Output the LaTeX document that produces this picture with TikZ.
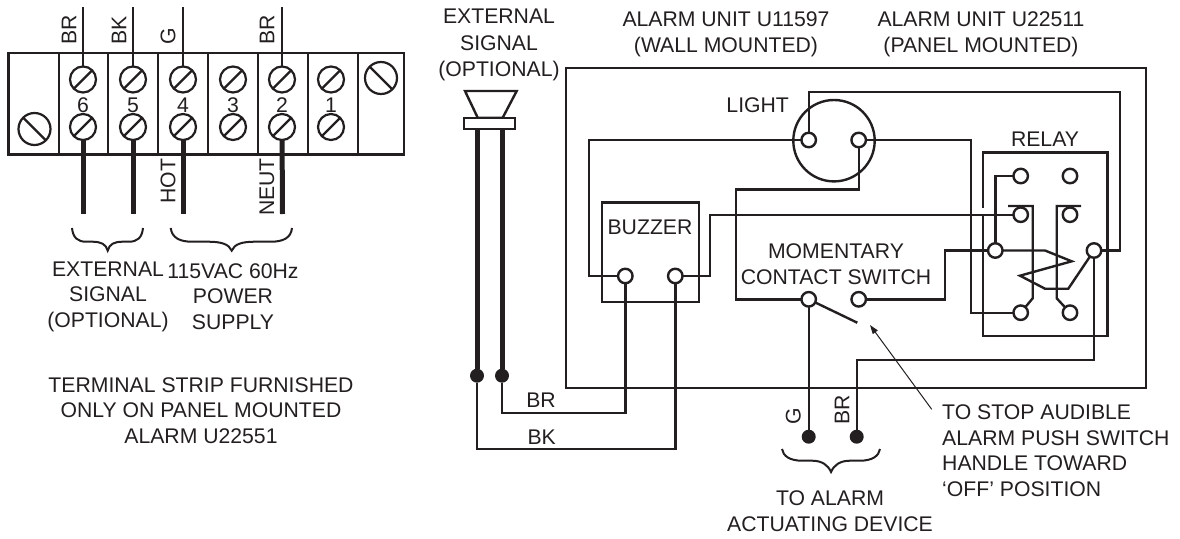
\documentclass[tikz,border=0pt]{standalone}
\usepackage{fontspec}
\setmainfont{Liberation Sans}
\usetikzlibrary{arrows.meta}
\definecolor{ink}{HTML}{231F20}

\newcommand{\txtsize}{\fontsize{21.2}{25.5}\selectfont}

\tikzset{
	wire/.style={draw=ink, line width=2.4pt},
	fatwire/.style={draw=ink, line width=5pt},
	bracket/.style={draw=ink, line width=2pt},
	stud/.style={circle, draw=ink, fill=white, line width=2.4pt, minimum size=14.5pt, inner sep=0pt, outer sep=0pt},
	dot/.style={circle, fill=ink, minimum size=14pt, inner sep=0pt, outer sep=0pt},
	screw/.style={circle, draw=ink, fill=white, line width=2.2pt, minimum size=26pt, inner sep=0pt, outer sep=0pt,
		path picture={\draw[ink, line width=2.2pt] (path picture bounding box.south west) -- (path picture bounding box.north east);}},
	bigscrew/.style={circle, draw=ink, fill=white, line width=2.2pt, minimum size=32pt, inner sep=0pt, outer sep=0pt,
		path picture={\draw[ink, line width=2.2pt] (path picture bounding box.north west) -- (path picture bounding box.south east);}},
	label/.style={text=ink, font=\txtsize, inner sep=0pt, align=center},
	sidelabel/.style={label, rotate=90},
}

\begin{document}
\begin{tikzpicture}[x=1pt, y=-1pt]
	\useasboundingbox (0,0) rectangle (1180,538);

	\draw[wire] (8.5,53) rectangle (404,154.5);
	\draw[wire] (59,53) -- (59,154.5);
	\draw[wire] (108,53) -- (108,154.5);
	\draw[wire] (158,53) -- (158,154.5);
	\draw[wire] (208,53) -- (208,154.5);
	\draw[wire] (258,53) -- (258,154.5);
	\draw[wire] (308,53) -- (308,154.5);
	\draw[wire] (358,53) -- (358,154.5);

	\node[bigscrew] (screwL) at (34.5,129) {};
	\node[bigscrew] (screwR) at (381,78) {};

	\node[screw] (top6) at (83,79.5) {};
	\node[screw] (top5) at (133,79.5) {};
	\node[screw] (top4) at (183,79.5) {};
	\node[screw] (top3) at (233,79.5) {};
	\node[screw] (top2) at (282,79.5) {};
	\node[screw] (top1) at (331,79.5) {};
	\node[screw] (low6) at (83,127) {};
	\node[screw] (low5) at (133,127) {};
	\node[screw] (low4) at (183,127) {};
	\node[screw] (low3) at (233,127) {};
	\node[screw] (low2) at (282,127) {};
	\node[screw] (low1) at (331,127) {};

	\node[label] (num6) at (83,105) {6};
	\node[label] (num5) at (133,105) {5};
	\node[label] (num4) at (183,105) {4};
	\node[label] (num3) at (233,105) {3};
	\node[label] (num2) at (282,105) {2};
	\node[label] (num1) at (331,105) {1};

	\coordinate (in6) at (83,7);
	\coordinate (in5) at (133,7);
	\coordinate (in4) at (183,7);
	\coordinate (in2) at (282,7);
	\coordinate (out6) at (83,214);
	\coordinate (out5) at (133,214);
	\coordinate (out4) at (183,214);
	\coordinate (out2) at (282.5,214);

	\draw[wire] (in6) -- (top6);
	\draw[wire] (in5) -- (top5);
	\draw[wire] (in4) -- (top4);
	\draw[wire] (in2) -- (top2);
	\draw[fatwire] (low6) -- (out6);
	\draw[fatwire] (low5) -- (out5);
	\draw[fatwire] (low4) -- (out4);
	\draw[fatwire] (low2) -- (out2);

	\node[sidelabel] (lblBR) at (69,30) {BR};
	\node[sidelabel] (lblBK) at (119,30) {BK};
	\node[sidelabel] (lblG) at (168,36) {G};
	\node[sidelabel] (lblBRb) at (267,30) {BR};
	\node[sidelabel] (lblHOT) at (168,181) {HOT};
	\node[sidelabel] (lblNEUT) at (267,187) {NEUT};

	\draw[bracket] (72,228) .. controls (73,238) and (78,241.7) .. (86,241.7) -- (92,241.7) .. controls (101,241.7) and (106,244) .. (107.7,250.7) .. controls (109.4,244) and (114,241.7) .. (123,241.7) -- (129,241.7) .. controls (137,241.7) and (142,238) .. (143,228);
	\draw[bracket] (170.7,228) .. controls (172,238) and (180,241.7) .. (192,241.7) -- (208,241.7) .. controls (221,241.7) and (229,244) .. (231.7,250.7) .. controls (234.4,244) and (242,241.7) .. (255,241.7) -- (271,241.7) .. controls (283,241.7) and (291,238) .. (292,228);

	\node[label] (extSignal) at (108,296.5) {EXTERNAL\\SIGNAL\\(OPTIONAL)};
	\node[label] (powerSupply) at (233,296.5) {115VAC 60Hz\\POWER\\SUPPLY};
	\node[label] (stripNote) at (201,410.5) {TERMINAL STRIP FURNISHED\\ONLY ON PANEL MOUNTED\\ALARM U22551};

	\node[label] (hornTitle) at (499,45) {EXTERNAL\\[1pt]SIGNAL\\[1pt](OPTIONAL)};
	\node[label] (unitWall) at (726,34.5) {ALARM UNIT U11597\\(WALL MOUNTED)};
	\node[label] (unitPanel) at (981,34.5) {ALARM UNIT U22511\\(PANEL MOUNTED)};

	\draw[wire] (465,91) -- (516.7,91) -- (502.7,117.7) -- (477.7,117.7) -- cycle;
	\node[draw=ink, line width=2.4pt, minimum width=51pt, minimum height=11pt, inner sep=0pt, outer sep=0pt] (hornBase) at (489.5,123.2) {};
	\node[dot] (hornA) at (477,375.7) {};
	\node[dot] (hornB) at (502,375.7) {};
	\draw[fatwire] (hornA |- hornBase.south) -- (hornA);
	\draw[fatwire] (hornB |- hornBase.south) -- (hornB);

	\draw[wire] (566,67.7) rectangle (1146,387.7);

	\node[circle, draw=ink, line width=2.4pt, minimum size=81.4pt, inner sep=0pt] (lamp) at (834,140.7) {};
	\node[stud] (lampA) at (808.7,140) {};
	\node[stud] (lampB) at (858.7,140) {};
	\node[label] (lampText) at (757.7,105) {LIGHT};

	\node[draw=ink, line width=2.4pt, minimum width=97.3pt, minimum height=99.4pt, inner sep=0pt] (buzzer) at (650.6,252) {};
	\node[label] (buzzerText) at (650,227) {BUZZER};
	\node[stud] (buzzA) at (625.3,276) {};
	\node[stud] (buzzB) at (675.3,276) {};

	\node[label] (switchText) at (836,264) {MOMENTARY\\CONTACT SWITCH};
	\node[stud] (swA) at (808.7,299.3) {};
	\node[stud] (swB) at (858.7,299.3) {};
	\coordinate (swTip) at (857.3,322.7);
	\node[dot] (devG) at (808.7,436.7) {};
	\node[dot] (devBR) at (856.7,436.7) {};

	\node[label] (relayText) at (1045,139) {RELAY};
	\draw[wire] (982.7,207.7) -- (982.7,152.3) -- (1107.3,152.3) -- (1107.3,336) -- (982.7,336) -- (982.7,214.7);
	\node[stud] (relayA) at (1020.7,176) {};
	\node[stud] (relayB) at (1070,176) {};
	\node[stud] (relayC) at (1020.7,214.7) {};
	\node[stud] (relayD) at (1070,214.7) {};
	\node[stud] (relayE) at (995.3,250.5) {};
	\node[stud] (relayF) at (1094,250.5) {};
	\node[stud] (relayG) at (1020.7,312.7) {};
	\node[stud] (relayH) at (1070,312.7) {};

	\draw[wire] (buzzA) -- (588.7,276) |- (lampA);
	\draw[wire] (buzzB) -- (710,276) |- (relayC);
	\draw[wire] (lampA) |- (1120,92) |- (relayF);
	\draw[wire] (lampB) -- (970.7,140) |- (relayG);
	\draw[wire] (lampB) |- (735.7,189.3) |- (swA);
	\draw[wire] (swB) -- (944.7,299.3) |- (relayE);
	\draw[wire] (swA) -- (swTip);
	\draw[wire] (swA) -- (devG);
	\draw[wire] (devBR) |- (1094,360) -- (relayF);
	\draw[wire] (relayA) -| (relayE);

	\draw[wire] (hornA) |- (675.3,449) -- (buzzB);
	\draw[wire] (hornB) |- (625.3,412.7) -- (buzzA);

	\draw[wire] (1008,206) -- (1032.7,206) -- (1032.7,298.3) -- (relayG);
	\draw[wire] (1081,206) -- (1056.7,206) -- (1056.7,298.3) -- (relayH);
	\draw[wire] (relayE) -- (1045,250.5) -- (1071.7,261.3) -- (1020,275.7) -- (1045,288.7) -- (1068.3,288.7) -- (relayF);

	\node[label] (lblBRh) at (541,400) {BR};
	\node[label] (lblBKh) at (541.7,437) {BK};
	\node[sidelabel] (lblGd) at (793.3,416.7) {G};
	\node[sidelabel] (lblBRd) at (842,410) {BR};

	\draw[bracket] (782,449) .. controls (783,456) and (790,460.7) .. (802,460.7) -- (812,460.7) .. controls (822,460.7) and (828,465) .. (831,472) .. controls (834,465) and (840,460.7) .. (850,460.7) -- (860,460.7) .. controls (872,460.7) and (879,456) .. (880,449);

	\node[label] (deviceText) at (830,511) {TO ALARM\\ACTUATING DEVICE};
	\node[label, align=left, anchor=north west] (stopNote) at (942,404.5) {TO STOP AUDIBLE\\ALARM PUSH SWITCH\\HANDLE TOWARD\\‘OFF’ POSITION};

	\coordinate (stopTail) at (931.7,409.3);
	\coordinate (stopTip) at (870,325);
	\draw[ink, line width=1pt, -{Triangle[length=9pt, width=6pt]}] (stopTail) -- (stopTip);
\end{tikzpicture}
\end{document}
